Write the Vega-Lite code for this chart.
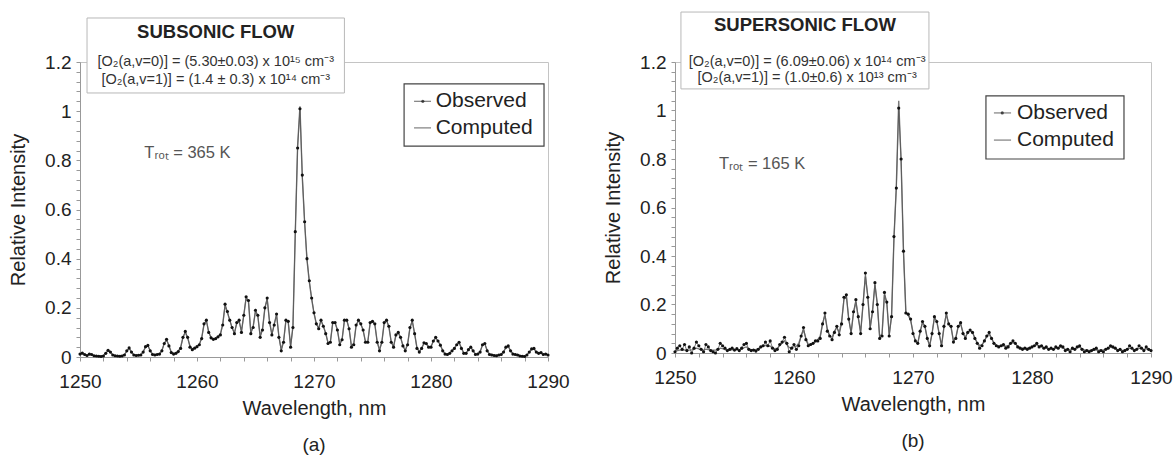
{
"$schema": "https://vega.github.io/schema/vega-lite/v6.json",
"background": "white",
"padding": {"left": 8, "top": 11, "right": 2, "bottom": 4},
"config": {
  "font": "Liberation Sans",
  "view": {"stroke": "#c4c4c4", "strokeWidth": 1},
  "axis": {"grid": false, "domainColor": "#999999", "tickColor": "#999999", "labelColor": "#222222", "titleColor": "#222222", "labelFontSize": 19, "titleFontSize": 20, "titleFontWeight": "normal", "labelFont": "Liberation Sans", "titleFont": "Liberation Sans", "tickSize": 4}
},
"spacing": 33,
"datasets": {
"sub": [
{"w":1250.0,"o":0.012,"c":0.010},{"w":1250.2,"o":0.016,"c":0.014},{"w":1250.4,"o":0.010,"c":0.010},{"w":1250.6,"o":0.006,"c":0.006},{"w":1250.8,"o":0.012,"c":0.011},
{"w":1251.0,"o":0.010,"c":0.010},{"w":1251.2,"o":0.005,"c":0.005},{"w":1251.4,"o":0.004,"c":0.004},{"w":1251.6,"o":0.003,"c":0.004},{"w":1251.8,"o":0.002,"c":0.004},
{"w":1252.0,"o":0.004,"c":0.006},{"w":1252.2,"o":0.015,"c":0.016},{"w":1252.4,"o":0.027,"c":0.025},{"w":1252.6,"o":0.020,"c":0.020},{"w":1252.8,"o":0.008,"c":0.009},
{"w":1253.0,"o":0.005,"c":0.006},{"w":1253.2,"o":0.004,"c":0.005},{"w":1253.4,"o":0.003,"c":0.005},{"w":1253.6,"o":0.004,"c":0.006},{"w":1253.8,"o":0.008,"c":0.010},
{"w":1254.0,"o":0.025,"c":0.024},{"w":1254.2,"o":0.037,"c":0.035},{"w":1254.4,"o":0.020,"c":0.021},{"w":1254.6,"o":0.008,"c":0.009},{"w":1254.8,"o":0.006,"c":0.007},
{"w":1255.0,"o":0.007,"c":0.008},{"w":1255.2,"o":0.008,"c":0.010},{"w":1255.4,"o":0.020,"c":0.022},{"w":1255.6,"o":0.042,"c":0.040},{"w":1255.8,"o":0.047,"c":0.045},
{"w":1256.0,"o":0.025,"c":0.027},{"w":1256.2,"o":0.010,"c":0.012},{"w":1256.4,"o":0.008,"c":0.010},{"w":1256.6,"o":0.010,"c":0.011},{"w":1256.8,"o":0.012,"c":0.014},
{"w":1257.0,"o":0.025,"c":0.027},{"w":1257.2,"o":0.055,"c":0.055},{"w":1257.4,"o":0.072,"c":0.070},{"w":1257.6,"o":0.045,"c":0.047},{"w":1257.8,"o":0.018,"c":0.020},
{"w":1258.0,"o":0.012,"c":0.015},{"w":1258.2,"o":0.015,"c":0.017},{"w":1258.4,"o":0.022,"c":0.024},{"w":1258.6,"o":0.035,"c":0.040},{"w":1258.8,"o":0.080,"c":0.080},
{"w":1259.0,"o":0.104,"c":0.100},{"w":1259.2,"o":0.080,"c":0.078},{"w":1259.4,"o":0.040,"c":0.045},{"w":1259.6,"o":0.030,"c":0.033},{"w":1259.8,"o":0.036,"c":0.036},
{"w":1260.0,"o":0.042,"c":0.042},{"w":1260.2,"o":0.050,"c":0.052},{"w":1260.4,"o":0.075,"c":0.078},{"w":1260.6,"o":0.135,"c":0.132},{"w":1260.8,"o":0.150,"c":0.148},
{"w":1261.0,"o":0.100,"c":0.102},{"w":1261.2,"o":0.078,"c":0.080},{"w":1261.4,"o":0.072,"c":0.074},{"w":1261.6,"o":0.075,"c":0.076},{"w":1261.8,"o":0.082,"c":0.084},
{"w":1262.0,"o":0.090,"c":0.094},{"w":1262.2,"o":0.130,"c":0.135},{"w":1262.4,"o":0.215,"c":0.210},{"w":1262.6,"o":0.185,"c":0.180},{"w":1262.8,"o":0.150,"c":0.150},
{"w":1263.0,"o":0.120,"c":0.118},{"w":1263.2,"o":0.095,"c":0.098},{"w":1263.4,"o":0.140,"c":0.138},{"w":1263.6,"o":0.150,"c":0.145},{"w":1263.8,"o":0.100,"c":0.105},
{"w":1264.0,"o":0.170,"c":0.170},{"w":1264.2,"o":0.245,"c":0.240},{"w":1264.4,"o":0.230,"c":0.225},{"w":1264.6,"o":0.095,"c":0.100},{"w":1264.8,"o":0.120,"c":0.125},
{"w":1265.0,"o":0.190,"c":0.188},{"w":1265.2,"o":0.170,"c":0.165},{"w":1265.4,"o":0.080,"c":0.085},{"w":1265.6,"o":0.110,"c":0.115},{"w":1265.8,"o":0.200,"c":0.198},
{"w":1266.0,"o":0.240,"c":0.236},{"w":1266.2,"o":0.140,"c":0.145},{"w":1266.4,"o":0.090,"c":0.092},{"w":1266.6,"o":0.130,"c":0.135},{"w":1266.8,"o":0.175,"c":0.172},
{"w":1267.0,"o":0.080,"c":0.085},{"w":1267.2,"o":0.025,"c":0.030},{"w":1267.4,"o":0.060,"c":0.065},{"w":1267.6,"o":0.150,"c":0.148},{"w":1267.8,"o":0.145,"c":0.140},
{"w":1268.0,"o":0.040,"c":0.045},{"w":1268.2,"o":0.120,"c":0.125},{"w":1268.4,"o":0.510,"c":0.500},{"w":1268.6,"o":0.850,"c":0.860},{"w":1268.8,"o":1.010,"c":1.020},
{"w":1269.0,"o":0.740,"c":0.730},{"w":1269.2,"o":0.550,"c":0.545},{"w":1269.4,"o":0.400,"c":0.395},{"w":1269.6,"o":0.310,"c":0.305},{"w":1269.8,"o":0.240,"c":0.235},
{"w":1270.0,"o":0.180,"c":0.178},{"w":1270.2,"o":0.135,"c":0.135},{"w":1270.4,"o":0.115,"c":0.118},{"w":1270.6,"o":0.150,"c":0.148},{"w":1270.8,"o":0.125,"c":0.125},
{"w":1271.0,"o":0.095,"c":0.098},{"w":1271.2,"o":0.055,"c":0.058},{"w":1271.4,"o":0.060,"c":0.062},{"w":1271.6,"o":0.140,"c":0.138},{"w":1271.8,"o":0.140,"c":0.140},
{"w":1272.0,"o":0.110,"c":0.110},{"w":1272.2,"o":0.050,"c":0.053},{"w":1272.4,"o":0.070,"c":0.072},{"w":1272.6,"o":0.150,"c":0.148},{"w":1272.8,"o":0.150,"c":0.150},
{"w":1273.0,"o":0.115,"c":0.115},{"w":1273.2,"o":0.040,"c":0.045},{"w":1273.4,"o":0.050,"c":0.055},{"w":1273.6,"o":0.130,"c":0.128},{"w":1273.8,"o":0.150,"c":0.148},
{"w":1274.0,"o":0.135,"c":0.135},{"w":1274.2,"o":0.110,"c":0.108},{"w":1274.4,"o":0.060,"c":0.062},{"w":1274.6,"o":0.060,"c":0.064},{"w":1274.8,"o":0.140,"c":0.138},
{"w":1275.0,"o":0.145,"c":0.143},{"w":1275.2,"o":0.135,"c":0.132},{"w":1275.4,"o":0.060,"c":0.063},{"w":1275.6,"o":0.025,"c":0.030},{"w":1275.8,"o":0.060,"c":0.062},
{"w":1276.0,"o":0.140,"c":0.138},{"w":1276.2,"o":0.150,"c":0.148},{"w":1276.4,"o":0.125,"c":0.122},{"w":1276.6,"o":0.060,"c":0.062},{"w":1276.8,"o":0.040,"c":0.042},
{"w":1277.0,"o":0.090,"c":0.088},{"w":1277.2,"o":0.100,"c":0.098},{"w":1277.4,"o":0.080,"c":0.080},{"w":1277.6,"o":0.045,"c":0.047},{"w":1277.8,"o":0.025,"c":0.028},
{"w":1278.0,"o":0.050,"c":0.052},{"w":1278.2,"o":0.120,"c":0.118},{"w":1278.4,"o":0.150,"c":0.145},{"w":1278.6,"o":0.095,"c":0.095},{"w":1278.8,"o":0.035,"c":0.038},
{"w":1279.0,"o":0.020,"c":0.022},{"w":1279.2,"o":0.035,"c":0.035},{"w":1279.4,"o":0.058,"c":0.055},{"w":1279.6,"o":0.055,"c":0.053},{"w":1279.8,"o":0.040,"c":0.040},
{"w":1280.0,"o":0.040,"c":0.042},{"w":1280.2,"o":0.065,"c":0.065},{"w":1280.4,"o":0.080,"c":0.078},{"w":1280.6,"o":0.065,"c":0.065},{"w":1280.8,"o":0.048,"c":0.048},
{"w":1281.0,"o":0.025,"c":0.027},{"w":1281.2,"o":0.012,"c":0.014},{"w":1281.4,"o":0.010,"c":0.012},{"w":1281.6,"o":0.015,"c":0.016},{"w":1281.8,"o":0.025,"c":0.026},
{"w":1282.0,"o":0.035,"c":0.036},{"w":1282.2,"o":0.050,"c":0.050},{"w":1282.4,"o":0.060,"c":0.058},{"w":1282.6,"o":0.035,"c":0.036},{"w":1282.8,"o":0.015,"c":0.017},
{"w":1283.0,"o":0.015,"c":0.016},{"w":1283.2,"o":0.030,"c":0.030},{"w":1283.4,"o":0.040,"c":0.039},{"w":1283.6,"o":0.025,"c":0.026},{"w":1283.8,"o":0.010,"c":0.012},
{"w":1284.0,"o":0.012,"c":0.013},{"w":1284.2,"o":0.020,"c":0.022},{"w":1284.4,"o":0.050,"c":0.048},{"w":1284.6,"o":0.055,"c":0.053},{"w":1284.8,"o":0.025,"c":0.027},
{"w":1285.0,"o":0.010,"c":0.012},{"w":1285.2,"o":0.008,"c":0.010},{"w":1285.4,"o":0.006,"c":0.008},{"w":1285.6,"o":0.005,"c":0.007},{"w":1285.8,"o":0.008,"c":0.009},
{"w":1286.0,"o":0.010,"c":0.012},{"w":1286.2,"o":0.020,"c":0.021},{"w":1286.4,"o":0.040,"c":0.038},{"w":1286.6,"o":0.045,"c":0.043},{"w":1286.8,"o":0.025,"c":0.026},
{"w":1287.0,"o":0.012,"c":0.014},{"w":1287.2,"o":0.010,"c":0.011},{"w":1287.4,"o":0.008,"c":0.009},{"w":1287.6,"o":0.004,"c":0.006},{"w":1287.8,"o":0.003,"c":0.005},
{"w":1288.0,"o":0.002,"c":0.005},{"w":1288.2,"o":0.008,"c":0.009},{"w":1288.4,"o":0.020,"c":0.020},{"w":1288.6,"o":0.033,"c":0.031},{"w":1288.8,"o":0.035,"c":0.033},
{"w":1289.0,"o":0.020,"c":0.021},{"w":1289.2,"o":0.015,"c":0.016},{"w":1289.4,"o":0.018,"c":0.017},{"w":1289.6,"o":0.010,"c":0.011},{"w":1289.8,"o":0.012,"c":0.011},
{"w":1290.0,"o":0.008,"c":0.009}
],
"sup": [
{"w":1250.0,"o":0.005,"c":0.008},{"w":1250.2,"o":0.020,"c":0.010},{"w":1250.4,"o":0.030,"c":0.012},{"w":1250.6,"o":0.015,"c":0.012},{"w":1250.8,"o":0.035,"c":0.013},
{"w":1251.0,"o":0.010,"c":0.012},{"w":1251.2,"o":0.025,"c":0.012},{"w":1251.4,"o":0.000,"c":0.013},{"w":1251.6,"o":0.020,"c":0.016},{"w":1251.8,"o":0.045,"c":0.020},
{"w":1252.0,"o":0.030,"c":0.017},{"w":1252.2,"o":0.015,"c":0.013},{"w":1252.4,"o":0.005,"c":0.012},{"w":1252.6,"o":0.035,"c":0.016},{"w":1252.8,"o":0.025,"c":0.014},
{"w":1253.0,"o":0.010,"c":0.012},{"w":1253.2,"o":0.005,"c":0.012},{"w":1253.4,"o":0.000,"c":0.012},{"w":1253.6,"o":0.015,"c":0.014},{"w":1253.8,"o":0.040,"c":0.020},
{"w":1254.0,"o":0.030,"c":0.018},{"w":1254.2,"o":0.020,"c":0.014},{"w":1254.4,"o":0.010,"c":0.012},{"w":1254.6,"o":0.015,"c":0.012},{"w":1254.8,"o":0.020,"c":0.013},
{"w":1255.0,"o":0.012,"c":0.013},{"w":1255.2,"o":0.018,"c":0.013},{"w":1255.4,"o":0.010,"c":0.014},{"w":1255.6,"o":0.020,"c":0.016},{"w":1255.8,"o":0.035,"c":0.022},
{"w":1256.0,"o":0.040,"c":0.025},{"w":1256.2,"o":0.015,"c":0.017},{"w":1256.4,"o":0.010,"c":0.014},{"w":1256.6,"o":0.012,"c":0.014},{"w":1256.8,"o":0.008,"c":0.015},
{"w":1257.0,"o":0.015,"c":0.018},{"w":1257.2,"o":0.025,"c":0.022},{"w":1257.4,"o":0.030,"c":0.028},{"w":1257.6,"o":0.045,"c":0.032},{"w":1257.8,"o":0.030,"c":0.030},
{"w":1258.0,"o":0.050,"c":0.028},{"w":1258.2,"o":0.020,"c":0.020},{"w":1258.4,"o":0.010,"c":0.018},{"w":1258.6,"o":0.015,"c":0.020},{"w":1258.8,"o":0.035,"c":0.030},
{"w":1259.0,"o":0.045,"c":0.042},{"w":1259.2,"o":0.065,"c":0.050},{"w":1259.4,"o":0.040,"c":0.035},{"w":1259.6,"o":0.005,"c":0.022},{"w":1259.8,"o":0.020,"c":0.022},
{"w":1260.0,"o":0.035,"c":0.025},{"w":1260.2,"o":0.015,"c":0.028},{"w":1260.4,"o":0.030,"c":0.040},{"w":1260.6,"o":0.070,"c":0.070},{"w":1260.8,"o":0.105,"c":0.095},
{"w":1261.0,"o":0.055,"c":0.060},{"w":1261.2,"o":0.030,"c":0.035},{"w":1261.4,"o":0.035,"c":0.035},{"w":1261.6,"o":0.040,"c":0.040},{"w":1261.8,"o":0.050,"c":0.048},
{"w":1262.0,"o":0.050,"c":0.055},{"w":1262.2,"o":0.060,"c":0.070},{"w":1262.4,"o":0.120,"c":0.120},{"w":1262.6,"o":0.165,"c":0.155},{"w":1262.8,"o":0.090,"c":0.100},
{"w":1263.0,"o":0.070,"c":0.070},{"w":1263.2,"o":0.055,"c":0.065},{"w":1263.4,"o":0.085,"c":0.090},{"w":1263.6,"o":0.110,"c":0.105},{"w":1263.8,"o":0.075,"c":0.085},
{"w":1264.0,"o":0.120,"c":0.130},{"w":1264.2,"o":0.230,"c":0.220},{"w":1264.4,"o":0.240,"c":0.235},{"w":1264.6,"o":0.140,"c":0.140},{"w":1264.8,"o":0.080,"c":0.085},
{"w":1265.0,"o":0.170,"c":0.165},{"w":1265.2,"o":0.220,"c":0.210},{"w":1265.4,"o":0.150,"c":0.145},{"w":1265.6,"o":0.080,"c":0.085},{"w":1265.8,"o":0.200,"c":0.200},
{"w":1266.0,"o":0.330,"c":0.315},{"w":1266.2,"o":0.230,"c":0.235},{"w":1266.4,"o":0.100,"c":0.105},{"w":1266.6,"o":0.170,"c":0.175},{"w":1266.8,"o":0.290,"c":0.280},
{"w":1267.0,"o":0.200,"c":0.205},{"w":1267.2,"o":0.060,"c":0.065},{"w":1267.4,"o":0.070,"c":0.080},{"w":1267.6,"o":0.250,"c":0.240},{"w":1267.8,"o":0.210,"c":0.205},
{"w":1268.0,"o":0.070,"c":0.075},{"w":1268.2,"o":0.150,"c":0.155},{"w":1268.4,"o":0.480,"c":0.470},{"w":1268.6,"o":0.680,"c":0.690},{"w":1268.8,"o":1.010,"c":1.040},
{"w":1269.0,"o":0.800,"c":0.790},{"w":1269.2,"o":0.420,"c":0.420},{"w":1269.4,"o":0.165,"c":0.170},{"w":1269.6,"o":0.160,"c":0.155},{"w":1269.8,"o":0.140,"c":0.135},
{"w":1270.0,"o":0.080,"c":0.085},{"w":1270.2,"o":0.050,"c":0.050},{"w":1270.4,"o":0.040,"c":0.040},{"w":1270.6,"o":0.090,"c":0.085},{"w":1270.8,"o":0.130,"c":0.125},
{"w":1271.0,"o":0.110,"c":0.110},{"w":1271.2,"o":0.060,"c":0.060},{"w":1271.4,"o":0.030,"c":0.030},{"w":1271.6,"o":0.080,"c":0.080},{"w":1271.8,"o":0.150,"c":0.145},
{"w":1272.0,"o":0.130,"c":0.130},{"w":1272.2,"o":0.080,"c":0.080},{"w":1272.4,"o":0.030,"c":0.030},{"w":1272.6,"o":0.110,"c":0.105},{"w":1272.8,"o":0.165,"c":0.160},
{"w":1273.0,"o":0.120,"c":0.120},{"w":1273.2,"o":0.110,"c":0.105},{"w":1273.4,"o":0.045,"c":0.050},{"w":1273.6,"o":0.060,"c":0.065},{"w":1273.8,"o":0.110,"c":0.110},
{"w":1274.0,"o":0.125,"c":0.120},{"w":1274.2,"o":0.080,"c":0.085},{"w":1274.4,"o":0.060,"c":0.065},{"w":1274.6,"o":0.085,"c":0.085},{"w":1274.8,"o":0.095,"c":0.092},
{"w":1275.0,"o":0.085,"c":0.085},{"w":1275.2,"o":0.060,"c":0.062},{"w":1275.4,"o":0.040,"c":0.042},{"w":1275.6,"o":0.020,"c":0.030},{"w":1275.8,"o":0.030,"c":0.035},
{"w":1276.0,"o":0.050,"c":0.050},{"w":1276.2,"o":0.070,"c":0.068},{"w":1276.4,"o":0.085,"c":0.078},{"w":1276.6,"o":0.060,"c":0.060},{"w":1276.8,"o":0.040,"c":0.042},
{"w":1277.0,"o":0.030,"c":0.032},{"w":1277.2,"o":0.025,"c":0.028},{"w":1277.4,"o":0.030,"c":0.028},{"w":1277.6,"o":0.035,"c":0.030},{"w":1277.8,"o":0.020,"c":0.028},
{"w":1278.0,"o":0.025,"c":0.030},{"w":1278.2,"o":0.040,"c":0.038},{"w":1278.4,"o":0.050,"c":0.045},{"w":1278.6,"o":0.040,"c":0.038},{"w":1278.8,"o":0.025,"c":0.028},
{"w":1279.0,"o":0.020,"c":0.022},{"w":1279.2,"o":0.015,"c":0.020},{"w":1279.4,"o":0.020,"c":0.020},{"w":1279.6,"o":0.015,"c":0.020},{"w":1279.8,"o":0.020,"c":0.022},
{"w":1280.0,"o":0.025,"c":0.025},{"w":1280.2,"o":0.030,"c":0.030},{"w":1280.4,"o":0.040,"c":0.034},{"w":1280.6,"o":0.025,"c":0.028},{"w":1280.8,"o":0.030,"c":0.025},
{"w":1281.0,"o":0.020,"c":0.022},{"w":1281.2,"o":0.025,"c":0.020},{"w":1281.4,"o":0.015,"c":0.018},{"w":1281.6,"o":0.020,"c":0.018},{"w":1281.8,"o":0.015,"c":0.018},
{"w":1282.0,"o":0.025,"c":0.020},{"w":1282.2,"o":0.020,"c":0.022},{"w":1282.4,"o":0.030,"c":0.024},{"w":1282.6,"o":0.025,"c":0.020},{"w":1282.8,"o":0.010,"c":0.016},
{"w":1283.0,"o":0.015,"c":0.014},{"w":1283.2,"o":0.005,"c":0.013},{"w":1283.4,"o":0.020,"c":0.015},{"w":1283.6,"o":0.015,"c":0.018},{"w":1283.8,"o":0.025,"c":0.022},
{"w":1284.0,"o":0.030,"c":0.024},{"w":1284.2,"o":0.015,"c":0.018},{"w":1284.4,"o":0.005,"c":0.013},{"w":1284.6,"o":0.010,"c":0.012},{"w":1284.8,"o":0.005,"c":0.011},
{"w":1285.0,"o":0.010,"c":0.011},{"w":1285.2,"o":0.015,"c":0.012},{"w":1285.4,"o":0.020,"c":0.013},{"w":1285.6,"o":0.005,"c":0.012},{"w":1285.8,"o":0.010,"c":0.012},
{"w":1286.0,"o":0.005,"c":0.013},{"w":1286.2,"o":0.015,"c":0.016},{"w":1286.4,"o":0.020,"c":0.020},{"w":1286.6,"o":0.030,"c":0.024},{"w":1286.8,"o":0.025,"c":0.022},
{"w":1287.0,"o":0.020,"c":0.018},{"w":1287.2,"o":0.010,"c":0.014},{"w":1287.4,"o":0.015,"c":0.012},{"w":1287.6,"o":0.005,"c":0.011},{"w":1287.8,"o":0.010,"c":0.012},
{"w":1288.0,"o":0.015,"c":0.015},{"w":1288.2,"o":0.030,"c":0.020},{"w":1288.4,"o":0.020,"c":0.018},{"w":1288.6,"o":0.010,"c":0.014},{"w":1288.8,"o":0.015,"c":0.016},
{"w":1289.0,"o":0.030,"c":0.020},{"w":1289.2,"o":0.020,"c":0.018},{"w":1289.4,"o":0.010,"c":0.015},{"w":1289.6,"o":0.025,"c":0.017},{"w":1289.8,"o":0.015,"c":0.015},
{"w":1290.0,"o":0.010,"c":0.013}
]
},
"hconcat": [
{
  "width": 468, "height": 295,
  "title": {"text": "(a)", "orient": "bottom", "fontSize": 19, "fontWeight": "normal", "color": "#222222", "offset": 18, "font": "Liberation Sans"},
  "resolve": {"axis": {"x": "independent", "y": "independent"}},
  "layer": [
    {"data": {"name": "sub"}, "mark": {"type": "line", "color": "#7a7a7a", "strokeWidth": 1.4},
     "encoding": {
       "x": {"field": "w", "type": "quantitative", "scale": {"domain": [1250, 1290]},
             "axis": {"orient": "bottom", "title": "Wavelength, nm", "format": "d", "values": [1250, 1260, 1270, 1280, 1290], "labelFlush": false, "labelPadding": 11, "titlePadding": 7}},
       "y": {"field": "c", "type": "quantitative", "scale": {"domain": [0, 1.2]},
             "axis": {"orient": "left", "title": "Relative Intensity", "values": [0, 0.2, 0.4, 0.6, 0.8, 1, 1.2], "format": "~g", "labelFlush": false, "labelPadding": 5, "titlePadding": 16}}
     }},
    {"data": {"name": "sub"}, "mark": {"type": "line", "color": "#555555", "strokeWidth": 0.8, "point": {"filled": true, "size": 10, "color": "#111111"}},
     "encoding": {
       "x": {"field": "w", "type": "quantitative", "axis": {"orient": "bottom", "title": null, "labels": false, "domain": false, "values": [1252,1254,1256,1258,1262,1264,1266,1268,1272,1274,1276,1278,1282,1284,1286,1288]}},
       "y": {"field": "o", "type": "quantitative", "axis": {"orient": "left", "title": null, "labels": false, "domain": false, "values": [0.04,0.08,0.12,0.16,0.24,0.28,0.32,0.36,0.44,0.48,0.52,0.56,0.64,0.68,0.72,0.76,0.84,0.88,0.92,0.96,1.04,1.08,1.12,1.16]}}
     }},
    {"data": {"values": [{}]}, "mark": {"type": "rect", "fill": "white", "stroke": "#b8b8b8", "strokeWidth": 1},
     "encoding": {"x": {"datum": 1250.6, "axis": null}, "x2": {"datum": 1272.6}, "y": {"datum": 1.074, "axis": null}, "y2": {"datum": 1.379}}},
    {"data": {"values": [{}]}, "mark": {"type": "text", "text": "SUBSONIC FLOW", "fontWeight": "bold", "fontSize": 18.5, "align": "center", "baseline": "middle", "color": "#222222"},
     "encoding": {"x": {"datum": 1261.6, "axis": null}, "y": {"datum": 1.322, "axis": null}}},
    {"data": {"values": [{}]}, "mark": {"type": "text", "text": "[O₂(a,v=0)] = (5.30±0.03) x 10¹⁵ cm⁻³", "fontSize": 14.5, "align": "center", "baseline": "middle", "color": "#333333"},
     "encoding": {"x": {"datum": 1261.6, "axis": null}, "y": {"datum": 1.2, "axis": null}}},
    {"data": {"values": [{}]}, "mark": {"type": "text", "text": "[O₂(a,v=1)] = (1.4 ± 0.3) x 10¹⁴ cm⁻³", "fontSize": 14.5, "align": "center", "baseline": "middle", "color": "#333333"},
     "encoding": {"x": {"datum": 1261.6, "axis": null}, "y": {"datum": 1.127, "axis": null}}},
    {"data": {"values": [{}]}, "mark": {"type": "text", "text": "Tᵣₒₜ = 365 K", "fontSize": 16.5, "align": "left", "baseline": "middle", "color": "#555555"},
     "encoding": {"x": {"datum": 1255.5, "axis": null}, "y": {"datum": 0.83, "axis": null}}},
    {"data": {"values": [{}]}, "mark": {"type": "rect", "fill": "white", "stroke": "#444444", "strokeWidth": 1.2},
     "encoding": {"x": {"datum": 1277.7, "axis": null}, "x2": {"datum": 1289.66}, "y": {"datum": 0.858, "axis": null}, "y2": {"datum": 1.111}}},
    {"data": {"values": [{}]}, "mark": {"type": "rule", "color": "#888888", "strokeWidth": 1.3},
     "encoding": {"x": {"datum": 1278.55, "axis": null}, "x2": {"datum": 1280.0}, "y": {"datum": 1.04, "axis": null}}},
    {"data": {"values": [{}]}, "mark": {"type": "point", "filled": true, "size": 10, "color": "#111111"},
     "encoding": {"x": {"datum": 1279.3, "axis": null}, "y": {"datum": 1.04, "axis": null}}},
    {"data": {"values": [{}]}, "mark": {"type": "rule", "color": "#888888", "strokeWidth": 1.3},
     "encoding": {"x": {"datum": 1278.55, "axis": null}, "x2": {"datum": 1280.0}, "y": {"datum": 0.932, "axis": null}}},
    {"data": {"values": [{}]}, "mark": {"type": "text", "text": "Observed", "fontSize": 21, "align": "left", "baseline": "middle", "color": "#222222"},
     "encoding": {"x": {"datum": 1280.4, "axis": null}, "y": {"datum": 1.04, "axis": null}}},
    {"data": {"values": [{}]}, "mark": {"type": "text", "text": "Computed", "fontSize": 21, "align": "left", "baseline": "middle", "color": "#222222"},
     "encoding": {"x": {"datum": 1280.4, "axis": null}, "y": {"datum": 0.932, "axis": null}}}
  ]
},
{
  "width": 476, "height": 291,
  "title": {"text": "(b)", "orient": "bottom", "fontSize": 19, "fontWeight": "normal", "color": "#222222", "offset": 18, "font": "Liberation Sans"},
  "resolve": {"axis": {"x": "independent", "y": "independent"}},
  "layer": [
    {"data": {"name": "sup"}, "mark": {"type": "line", "color": "#7a7a7a", "strokeWidth": 1.4},
     "encoding": {
       "x": {"field": "w", "type": "quantitative", "scale": {"domain": [1250, 1290]},
             "axis": {"orient": "bottom", "title": "Wavelength, nm", "format": "d", "values": [1250, 1260, 1270, 1280, 1290], "labelFlush": false, "labelPadding": 11, "titlePadding": 7}},
       "y": {"field": "c", "type": "quantitative", "scale": {"domain": [0, 1.2]},
             "axis": {"orient": "left", "title": "Relative Intensity", "values": [0, 0.2, 0.4, 0.6, 0.8, 1, 1.2], "format": "~g", "labelFlush": false, "labelPadding": 5, "titlePadding": 16}}
     }},
    {"data": {"name": "sup"}, "mark": {"type": "line", "color": "#555555", "strokeWidth": 0.8, "point": {"filled": true, "size": 10, "color": "#111111"}},
     "encoding": {
       "x": {"field": "w", "type": "quantitative", "axis": {"orient": "bottom", "title": null, "labels": false, "domain": false, "values": [1252,1254,1256,1258,1262,1264,1266,1268,1272,1274,1276,1278,1282,1284,1286,1288]}},
       "y": {"field": "o", "type": "quantitative", "axis": {"orient": "left", "title": null, "labels": false, "domain": false, "values": [0.04,0.08,0.12,0.16,0.24,0.28,0.32,0.36,0.44,0.48,0.52,0.56,0.64,0.68,0.72,0.76,0.84,0.88,0.92,0.96,1.04,1.08,1.12,1.16]}}
     }},
    {"data": {"values": [{}]}, "mark": {"type": "rect", "fill": "white", "stroke": "#b8b8b8", "strokeWidth": 1},
     "encoding": {"x": {"datum": 1250.5, "axis": null}, "x2": {"datum": 1271.34}, "y": {"datum": 1.089, "axis": null}, "y2": {"datum": 1.406}}},
    {"data": {"values": [{}]}, "mark": {"type": "text", "text": "SUPERSONIC FLOW", "fontWeight": "bold", "fontSize": 18.5, "align": "center", "baseline": "middle", "color": "#222222"},
     "encoding": {"x": {"datum": 1260.92, "axis": null}, "y": {"datum": 1.353, "axis": null}}},
    {"data": {"values": [{}]}, "mark": {"type": "text", "text": "[O₂(a,v=0)] = (6.09±0.06) x 10¹⁴ cm⁻³", "fontSize": 14.5, "align": "center", "baseline": "middle", "color": "#333333"},
     "encoding": {"x": {"datum": 1261.1, "axis": null}, "y": {"datum": 1.2, "axis": null}}},
    {"data": {"values": [{}]}, "mark": {"type": "text", "text": "[O₂(a,v=1)] = (1.0±0.6) x 10¹³ cm⁻³", "fontSize": 14.5, "align": "center", "baseline": "middle", "color": "#333333"},
     "encoding": {"x": {"datum": 1261.1, "axis": null}, "y": {"datum": 1.134, "axis": null}}},
    {"data": {"values": [{}]}, "mark": {"type": "text", "text": "Tᵣₒₜ = 165 K", "fontSize": 16.5, "align": "left", "baseline": "middle", "color": "#555555"},
     "encoding": {"x": {"datum": 1253.7, "axis": null}, "y": {"datum": 0.78, "axis": null}}},
    {"data": {"values": [{}]}, "mark": {"type": "rect", "fill": "white", "stroke": "#444444", "strokeWidth": 1.2},
     "encoding": {"x": {"datum": 1276.13, "axis": null}, "x2": {"datum": 1287.73}, "y": {"datum": 0.80, "axis": null}, "y2": {"datum": 1.06}}},
    {"data": {"values": [{}]}, "mark": {"type": "rule", "color": "#888888", "strokeWidth": 1.3},
     "encoding": {"x": {"datum": 1276.8, "axis": null}, "x2": {"datum": 1278.24}, "y": {"datum": 0.99, "axis": null}}},
    {"data": {"values": [{}]}, "mark": {"type": "point", "filled": true, "size": 10, "color": "#111111"},
     "encoding": {"x": {"datum": 1277.5, "axis": null}, "y": {"datum": 0.99, "axis": null}}},
    {"data": {"values": [{}]}, "mark": {"type": "rule", "color": "#888888", "strokeWidth": 1.3},
     "encoding": {"x": {"datum": 1276.8, "axis": null}, "x2": {"datum": 1278.24}, "y": {"datum": 0.878, "axis": null}}},
    {"data": {"values": [{}]}, "mark": {"type": "text", "text": "Observed", "fontSize": 21, "align": "left", "baseline": "middle", "color": "#222222"},
     "encoding": {"x": {"datum": 1278.74, "axis": null}, "y": {"datum": 0.99, "axis": null}}},
    {"data": {"values": [{}]}, "mark": {"type": "text", "text": "Computed", "fontSize": 21, "align": "left", "baseline": "middle", "color": "#222222"},
     "encoding": {"x": {"datum": 1278.74, "axis": null}, "y": {"datum": 0.878, "axis": null}}}
  ]
}
]
}
